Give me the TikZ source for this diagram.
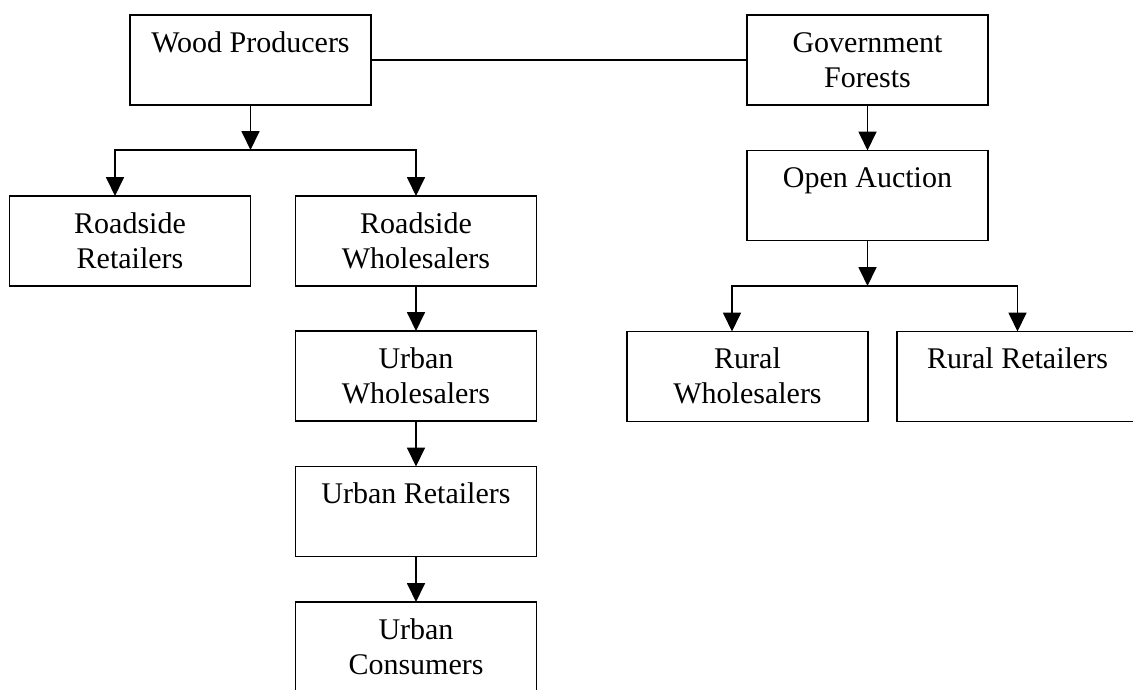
\documentclass[tikz,border=0pt]{standalone}
\usepackage{fontspec}
\setmainfont{Liberation Serif}
\usetikzlibrary{arrows.meta}
\newcommand\bxt[1]{\parbox[c][90pt][t]{241pt}{\centering\rule{0pt}{37pt}#1\par}}
\begin{document}
\begin{tikzpicture}[x=1pt,y=-1pt,
  box/.style={draw,line width=1.8pt,inner sep=0pt,outer sep=0pt,font=\fontsize{30}{35}\selectfont},
  arr/.style={line width=1.8pt,-{Triangle[length=19pt,width=18pt]}},
  ln/.style={line width=1.8pt}]
\useasboundingbox (0,0) rectangle (1133,689);
\clip (0,0) rectangle (1133,689);
\node[box] (wood) at (250.5,60) {\bxt{Wood Producers}};
\node[box] (gov) at (867.5,60) {\bxt{Government\\Forests}};
\node[box] (auction) at (867.5,195.5) {\bxt{Open Auction}};
\node[box] (rret) at (130,241) {\bxt{Roadside\\Retailers}};
\node[box] (rwhol) at (416,241) {\bxt{Roadside\\Wholesalers}};
\node[box] (uwhol) at (416,376) {\bxt{Urban\\Wholesalers}};
\node[box] (uret) at (416,511.5) {\bxt{Urban Retailers}};
\node[box] (ucons) at (416,647) {\bxt{Urban\\Consumers}};
\node[box] (rurwhol) at (747.5,376.5) {\bxt{Rural\\Wholesalers}};
\node[box] (rurret) at (1017.5,376.5) {\bxt{Rural Retailers}};
\coordinate (j1) at (250.5,150);
\coordinate (j2) at (867.5,286);
\draw[ln] (wood.east) -- (gov.west);
\draw[arr] (wood.south) -- (j1);
\draw[arr] (j1) -| ([xshift=-15pt]rret.north);
\draw[arr] (j1) -| (rwhol.north);
\draw[arr] (rwhol.south) -- (uwhol.north);
\draw[arr] (uwhol.south) -- (uret.north);
\draw[arr] (uret.south) -- (ucons.north);
\draw[arr] (gov.south) -- (auction.north);
\draw[arr] (auction.south) -- (j2);
\draw[arr] (j2) -| ([xshift=-15.5pt]rurwhol.north);
\draw[arr] (j2) -| (rurret.north);
\end{tikzpicture}
\end{document}
